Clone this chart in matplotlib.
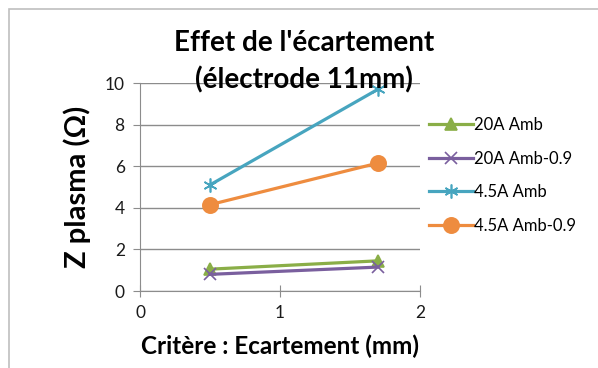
import matplotlib
matplotlib.use("Agg")
import matplotlib.pyplot as plt
from matplotlib.patches import Rectangle

# data
x_vals = [0.5, 1.7]
series_names = ["20A Amb", "20A Amb-0.9", "4.5A Amb", "4.5A Amb-0.9"]
amb_20 = [1.05, 1.45]
amb09_20 = [0.8, 1.15]
amb_45 = [5.1, 9.7]
amb09_45 = [4.15, 6.15]

x_ticks = [0, 1, 2]
y_ticks = [0, 2, 4, 6, 8, 10]

COLORS = ["#8AAE47", "#7A5F9E", "#47A5BF", "#EE8C3F"]
MARKERS = ["^", "x", (6, 2, 0), "o"]
MSIZES = [8, 8, 10, 11]

plt.rcParams["font.family"] = ["Lato", "DejaVu Sans"]

fig = plt.figure(figsize=(5.98, 3.68), dpi=100)
fig.patches.append(Rectangle((9 / 598, -0.1), 1.2, 1 - 9 / 368 + 0.1,
                             transform=fig.transFigure, fill=False,
                             edgecolor="#BFBFBF", linewidth=1.2))

ax = fig.add_axes([140 / 598, 1 - 291 / 368, 280 / 598, 208 / 368])

all_series = [amb_20, amb09_20, amb_45, amb09_45]
for name, ys, c, m, ms in zip(series_names, all_series, COLORS, MARKERS, MSIZES):
    ax.plot(x_vals, ys, color=c, linewidth=2.3, marker=m, markersize=ms,
            markeredgewidth=1.2, label=name, clip_on=False)

ax.set_xlim(0, 2)
ax.set_ylim(0, 10)
ax.set_xticks(x_ticks)
ax.set_yticks(y_ticks)
ax.grid(axis="y", color="#8C8C8C", linewidth=1)
ax.set_axisbelow(True)
for s in ["top", "right"]:
    ax.spines[s].set_visible(False)
for s in ["left", "bottom"]:
    ax.spines[s].set_color("#8C8C8C")
ax.tick_params(axis="both", colors="#8C8C8C", labelcolor="#1a1a1a",
               labelsize=12.5, length=5)
ax.tick_params(axis="x", direction="inout", length=8, pad=6)
ax.tick_params(axis="y", pad=6)

ax.set_xlabel("Critère : Ecartement (mm)", fontsize=17.5, fontweight="bold",
              labelpad=10)
ax.set_ylabel("Z plasma (Ω)", fontsize=21, fontweight="bold", labelpad=10)

fig.text(304 / 598, 1 - 62 / 368, "Effet de l'écartement\n(électrode 11mm)",
         ha="center", va="center", fontsize=20, fontweight="bold",
         linespacing=1.45)

leg = ax.legend(loc="center left", bbox_to_anchor=(1.01, 0.555), frameon=False,
                fontsize=12, handlelength=2.6, handletextpad=0.1,
                labelspacing=1.05, borderaxespad=0)

fig.savefig("out.png", dpi=100)
